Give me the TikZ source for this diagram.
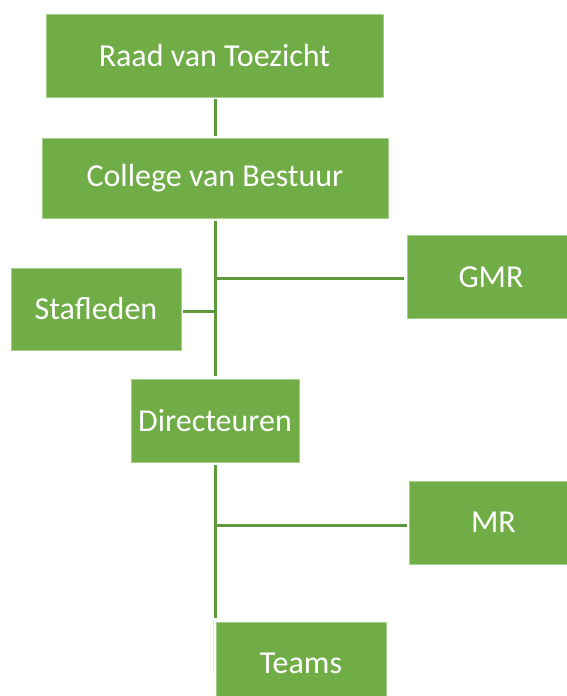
\documentclass[tikz,border=0pt]{standalone}
\usepackage{fontspec}
\setmainfont{Carlito}
\definecolor{boxgreen}{HTML}{70AD47}
\definecolor{boxedge}{HTML}{A6CF8A}
\definecolor{linkgreen}{HTML}{5E9A3C}
\definecolor{faint}{HTML}{E4E6E0}
\begin{document}
\begin{tikzpicture}[x=1pt,y=-1pt,
  orgbox/.style={fill=boxgreen,draw=boxedge,line width=0.8pt,text=white,
    font=\fontsize{32}{38}\selectfont,inner sep=0pt,anchor=center},
  link/.style={draw=linkgreen,line width=3pt}]
\useasboundingbox (0,0) rectangle (567,696);
\clip (0,0) rectangle (567,696);
\node[orgbox,minimum width=337pt,minimum height=83pt] (raad) at (214.5,55.5) {Raad van Toezicht};
\node[orgbox,minimum width=346pt,minimum height=80pt] (college) at (215,178) {College van Bestuur};
\node[orgbox,minimum width=168pt,minimum height=83pt] (gmr) at (491,277) {GMR};
\node[orgbox,minimum width=170pt,minimum height=82pt] (staf) at (96,309) {Stafleden};
\node[orgbox,minimum width=168pt,minimum height=83pt] (dir) at (215,420.5) {Directeuren};
\node[orgbox,minimum width=169pt,minimum height=83pt] (mr) at (493.5,522.5) {MR};
\node[orgbox,minimum width=170pt,minimum height=83pt] (teams) at (301,663.5) {Teams};
\coordinate (gmrj) at (215.5,278);
\coordinate (stafj) at (216,311);
\coordinate (mrj) at (216,525);
\coordinate (teamsj) at (215,618);
\coordinate (fa) at (213,620);
\coordinate (fb) at (213,672);
\draw[link,shorten <=2pt,shorten >=2pt] (raad.south -| college.north) -- (college.north);
\draw[link,shorten <=2.5pt,shorten >=2.5pt] (college.south) -- (dir.north);
\draw[link,shorten >=3pt] (gmrj) -- (gmr.west |- gmrj);
\draw[link,shorten <=2pt] (staf.east |- stafj) -- (stafj);
\draw[link,shorten <=2.5pt] (dir.south) -- (teamsj);
\draw[link,shorten >=2pt] (mrj) -- (mr.west |- mrj);
\draw[faint,line width=1pt] (fa) -- (fb);
\end{tikzpicture}
\end{document}
